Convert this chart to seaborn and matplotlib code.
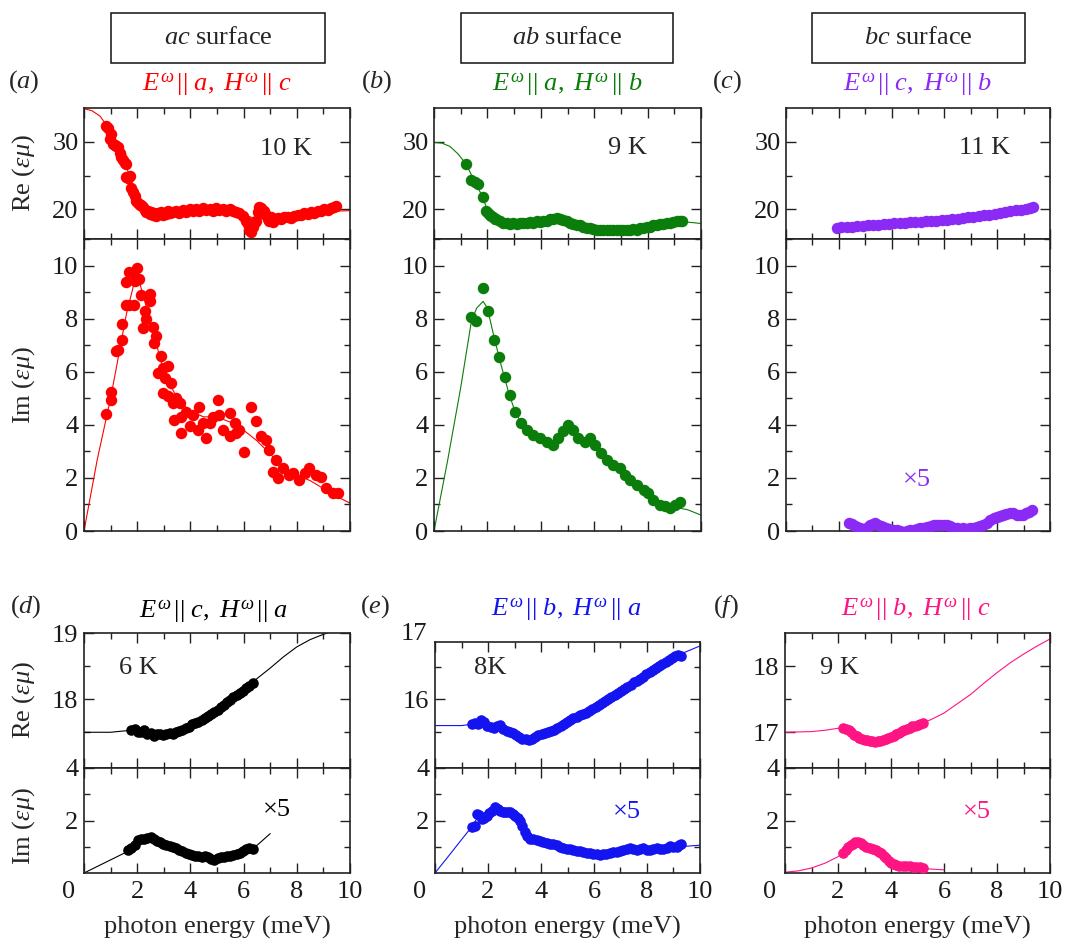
import matplotlib
matplotlib.use("Agg")
import matplotlib.pyplot as plt
from matplotlib.ticker import MultipleLocator, FixedLocator
from matplotlib.patches import Rectangle
import seaborn as sns

# ---------------------------------------------------------------- data
# photon energy (meV), value pairs; "fit" lists are the model curves
a_re_pts = [(0.84, 32.3), (0.90, 32.0), (0.96, 30.4), (1.03, 31.1), (1.09, 29.6), (1.15, 29.5),
            (1.22, 29.4), (1.28, 29.2), (1.34, 28.4), (1.40, 27.7), (1.46, 27.3), (1.53, 26.9),
            (1.59, 26.7), (1.59, 24.8), (1.65, 24.6), (1.72, 24.9), (1.78, 23.2), (1.84, 22.6),
            (1.90, 22.0), (1.96, 21.3), (2.03, 20.9), (2.09, 20.6), (2.15, 20.7), (2.22, 20.3),
            (2.28, 19.9), (2.34, 19.6), (2.40, 19.8), (2.47, 19.3), (2.53, 19.6), (2.59, 19.2),
            (2.65, 19.4), (2.72, 19.0), (2.78, 19.5), (2.84, 19.3), (2.90, 19.6), (2.97, 19.1),
            (3.03, 19.5), (3.09, 19.3), (3.15, 19.7), (3.22, 19.4), (3.34, 19.6), (3.47, 19.8),
            (3.59, 19.5), (3.72, 19.9), (3.84, 19.6), (3.97, 20.0), (4.09, 19.7), (4.22, 20.1),
            (4.34, 19.8), (4.47, 20.2), (4.59, 19.9), (4.72, 20.1), (4.84, 19.8), (4.97, 20.2),
            (5.09, 19.9), (5.22, 20.1), (5.34, 19.7), (5.47, 20.0), (5.59, 19.8), (5.72, 19.6),
            (5.84, 19.4), (5.97, 19.0), (6.09, 18.3), (6.16, 17.8), (6.22, 17.0), (6.28, 16.6),
            (6.34, 17.4), (6.41, 18.1), (6.47, 18.3), (6.53, 19.6), (6.59, 20.4), (6.66, 20.2),
            (6.72, 19.5), (6.78, 19.8), (6.84, 19.2), (6.91, 18.6), (6.97, 18.3), (7.03, 18.8),
            (7.09, 18.1), (7.16, 18.4), (7.28, 18.7), (7.41, 18.5), (7.53, 18.8), (7.66, 18.9),
            (7.78, 18.7), (7.91, 19.0), (8.03, 19.2), (8.16, 19.1), (8.28, 19.4), (8.41, 19.3),
            (8.53, 19.6), (8.66, 19.5), (8.78, 19.8), (8.91, 19.7), (9.03, 20.0), (9.16, 19.9),
            (9.28, 20.2), (9.41, 20.3), (9.47, 20.5)]
a_re_fit = [(0, 34.9), (0.3, 34.6), (0.6, 33.8), (0.9, 32.2), (1.2, 30.0), (1.5, 27.3), (1.8, 24.0),
            (2.1, 21.5), (2.4, 20.2), (2.7, 19.6), (3.0, 19.4), (4.0, 19.6), (5.0, 19.9), (5.8, 19.6),
            (6.3, 18.8), (6.8, 18.7), (7.5, 18.7), (8.5, 19.2), (9.3, 19.7), (10, 19.8)]
a_im_pts = [(0.81, 4.40), (1.03, 4.94), (1.03, 5.23), (1.21, 6.77), (1.28, 6.83), (1.43, 7.20),
            (1.43, 7.80), (1.59, 8.50), (1.71, 8.50), (1.88, 8.50), (1.59, 9.37), (1.69, 9.76),
            (1.84, 9.72), (2.00, 9.90), (1.90, 9.40), (2.05, 9.50), (2.22, 7.65), (2.28, 8.28),
            (2.15, 8.90), (2.47, 8.94), (2.47, 8.65), (2.34, 8.00), (2.59, 7.70), (2.72, 7.33),
            (2.65, 7.08), (2.90, 6.58), (2.78, 5.95), (2.97, 6.14), (3.15, 6.20), (3.03, 5.76),
            (3.28, 5.57), (2.97, 5.20), (3.15, 5.07), (3.47, 5.00), (3.60, 4.82), (3.34, 4.82),
            (3.40, 4.19), (3.65, 4.31), (3.65, 3.69), (3.84, 4.50), (3.97, 3.94), (4.09, 4.38),
            (4.34, 4.69), (4.28, 3.81), (4.47, 4.06), (4.59, 3.50), (4.72, 4.06), (4.84, 4.31),
            (5.03, 4.94), (5.09, 4.38), (5.22, 3.81), (5.47, 4.44), (5.47, 3.56), (5.66, 4.06),
            (5.84, 3.81), (5.72, 3.69), (6.03, 2.99), (6.28, 4.69), (6.47, 4.13), (6.66, 3.56),
            (6.85, 3.43), (6.97, 3.06), (7.22, 2.68), (7.10, 2.24), (7.28, 1.99), (7.47, 2.36),
            (7.72, 2.11), (7.85, 2.18), (8.10, 1.92), (8.29, 2.18), (8.47, 2.36), (8.72, 2.11),
            (8.91, 2.05), (9.10, 1.61), (9.35, 1.42), (9.54, 1.42)]
a_im_fit = [(0, 0.0), (0.5, 2.7), (1.0, 5.0), (1.3, 6.6), (1.6, 8.2), (1.9, 9.4), (2.05, 9.5),
            (2.3, 8.6), (2.6, 7.5), (3.0, 6.0), (3.5, 5.0), (4.0, 4.5), (4.5, 4.3), (5.0, 4.3),
            (5.5, 4.1), (6.0, 3.8), (6.5, 3.4), (7.0, 2.9), (7.5, 2.4), (8.0, 2.1), (8.5, 1.9),
            (9.0, 1.6), (9.5, 1.3), (10, 1.05)]

b_re_pts = [(1.21, 26.7), (1.40, 24.3), (1.52, 24.1), (1.65, 23.8), (1.84, 21.85), (1.96, 19.8),
            (2.03, 19.5), (2.09, 19.2), (2.15, 19.0), (2.22, 18.8), (2.28, 18.6), (2.34, 18.5),
            (2.47, 18.2), (2.59, 18.0), (2.72, 17.9), (2.84, 17.8), (2.97, 17.9), (3.09, 17.8),
            (3.22, 18.0), (3.34, 17.9), (3.47, 18.0), (3.59, 18.1), (3.72, 18.0), (3.84, 18.2),
            (3.97, 18.1), (4.09, 18.3), (4.22, 18.3), (4.34, 18.5), (4.47, 18.6), (4.59, 18.7),
            (4.72, 18.5), (4.84, 18.4), (4.97, 18.2), (5.09, 18.0), (5.22, 17.8), (5.34, 17.7),
            (5.47, 17.6), (5.59, 17.4), (5.72, 17.3), (5.84, 17.2), (5.97, 17.1), (6.09, 17.0),
            (6.22, 17.0), (6.34, 16.9), (6.47, 17.0), (6.59, 16.9), (6.72, 17.0), (6.84, 16.9),
            (6.97, 17.0), (7.09, 16.9), (7.22, 17.0), (7.34, 17.0), (7.47, 17.1), (7.59, 17.0),
            (7.72, 17.2), (7.84, 17.2), (7.97, 17.4), (8.09, 17.4), (8.22, 17.6), (8.34, 17.6),
            (8.47, 17.8), (8.59, 17.8), (8.72, 18.0), (8.84, 18.0), (8.97, 18.1), (9.09, 18.2),
            (9.22, 18.2), (9.30, 18.2)]
b_re_fit = [(0, 29.9), (0.3, 29.8), (0.6, 29.3), (0.9, 28.2), (1.2, 26.7), (1.5, 24.3), (1.8, 22.0),
            (2.0, 19.9), (2.2, 18.9), (2.5, 18.2), (3.0, 17.9), (4.0, 18.2), (4.6, 18.6), (5.0, 18.3),
            (5.5, 17.6), (6.0, 17.1), (7.0, 16.95), (8.0, 17.4), (9.0, 18.05), (9.5, 18.1), (10, 17.9)]
b_im_pts = [(1.40, 8.06), (1.59, 7.90), (1.84, 9.16), (2.03, 8.28), (2.25, 7.20), (2.44, 6.54),
            (2.65, 5.82), (2.84, 5.13), (3.03, 4.50), (3.25, 4.06), (3.47, 3.81), (3.72, 3.62),
            (3.97, 3.50), (4.22, 3.37), (4.44, 3.25), (4.66, 3.50), (4.84, 3.75), (5.03, 4.00),
            (5.22, 3.81), (5.41, 3.50), (5.66, 3.37), (5.84, 3.50), (6.03, 3.25), (6.25, 2.93),
            (6.47, 2.68), (6.72, 2.49), (6.97, 2.36), (7.16, 2.11), (7.35, 1.92), (7.60, 1.74),
            (7.85, 1.55), (8.03, 1.42), (8.22, 1.17), (8.47, 0.98), (8.66, 0.94), (8.85, 0.86),
            (9.04, 0.98), (9.22, 1.11)]
b_im_fit = [(0, 0.0), (0.5, 2.6), (1.0, 5.4), (1.4, 7.9), (1.6, 8.4), (1.84, 8.65), (2.0, 8.4),
            (2.25, 7.3), (2.5, 6.3), (2.8, 5.2), (3.0, 4.6), (3.3, 4.0), (3.7, 3.65), (4.2, 3.4),
            (4.5, 3.3), (4.8, 3.7), (5.0, 3.95), (5.3, 3.65), (5.7, 3.4), (6.0, 3.25), (6.4, 2.8),
            (7.0, 2.35), (7.5, 1.85), (8.0, 1.45), (8.5, 1.05), (9.0, 0.9), (9.5, 0.8), (10, 0.6)]

c_re_pts = [(1.93, 17.3), (2.10, 17.35), (2.30, 17.4), (2.50, 17.45), (2.70, 17.5), (2.90, 17.55),
            (3.10, 17.6), (3.30, 17.65), (3.50, 17.7), (3.70, 17.8), (3.90, 17.85), (4.10, 17.9),
            (4.30, 17.95), (4.50, 18.0), (4.70, 18.05), (4.90, 18.1), (5.10, 18.15), (5.30, 18.2),
            (5.50, 18.25), (5.70, 18.3), (5.90, 18.35), (6.10, 18.45), (6.30, 18.5), (6.50, 18.6),
            (6.70, 18.7), (6.90, 18.8), (7.10, 18.9), (7.30, 19.0), (7.50, 19.1), (7.70, 19.2),
            (7.90, 19.35), (8.10, 19.45), (8.30, 19.6), (8.50, 19.7), (8.70, 19.85), (8.90, 19.95),
            (9.10, 20.1), (9.25, 20.25), (9.37, 20.4)]
c_im_pts = [(2.37, 0.31), (2.50, 0.25), (2.60, 0.20), (2.69, 0.16), (2.80, 0.10), (2.90, 0.06),
            (3.00, 0.08), (3.10, 0.15), (3.20, 0.22), (3.30, 0.26), (3.38, 0.29), (3.50, 0.24),
            (3.60, 0.18), (3.69, 0.16), (3.80, 0.12), (3.90, 0.08), (4.07, 0.04), (4.20, 0.02),
            (4.30, 0.00), (4.45, -0.02), (4.60, 0.00), (4.70, 0.02), (4.83, 0.04), (4.95, 0.07),
            (5.08, 0.10), (5.20, 0.12), (5.35, 0.16), (5.50, 0.20), (5.60, 0.22), (5.71, 0.23),
            (5.85, 0.24), (5.97, 0.23), (6.09, 0.22), (6.20, 0.18), (6.35, 0.13), (6.47, 0.10),
            (6.60, 0.09), (6.72, 0.10), (6.85, 0.09), (6.97, 0.10), (7.10, 0.12), (7.22, 0.14),
            (7.35, 0.18), (7.48, 0.23), (7.60, 0.32), (7.73, 0.42), (7.86, 0.48), (8.00, 0.53),
            (8.10, 0.58), (8.23, 0.60), (8.35, 0.65), (8.48, 0.68), (8.61, 0.67), (8.74, 0.62),
            (8.87, 0.60), (8.99, 0.60), (9.10, 0.66), (9.20, 0.72), (9.31, 0.79)]

d_re_pts = [(1.78, 17.53), (1.90, 17.55), (2.02, 17.51), (2.14, 17.50), (2.26, 17.53), (2.38, 17.47),
            (2.50, 17.49), (2.62, 17.44), (2.74, 17.47), (2.86, 17.48), (2.98, 17.46), (3.10, 17.47),
            (3.22, 17.49), (3.34, 17.48), (3.46, 17.51), (3.58, 17.52), (3.70, 17.54), (3.82, 17.57),
            (3.94, 17.58), (4.06, 17.62), (4.18, 17.64), (4.30, 17.66), (4.42, 17.69), (4.54, 17.72),
            (4.66, 17.75), (4.78, 17.78), (4.90, 17.80), (5.02, 17.84), (5.14, 17.88), (5.26, 17.91),
            (5.38, 17.95), (5.50, 17.99), (5.62, 18.03), (5.74, 18.06), (5.86, 18.10), (5.98, 18.13),
            (6.10, 18.17), (6.22, 18.20), (6.34, 18.24)]
d_re_fit = [(0, 17.5), (1.0, 17.5), (1.5, 17.52), (1.84, 17.53), (2.4, 17.47), (3.0, 17.46),
            (3.5, 17.5), (4.0, 17.61), (4.5, 17.73), (5.0, 17.86), (5.5, 18.02), (6.0, 18.17),
            (6.5, 18.31), (7.0, 18.47), (7.5, 18.64), (8.0, 18.79), (8.5, 18.9), (9.0, 18.98),
            (9.3, 19.02)]
d_im_pts = [(1.66, 0.87), (1.78, 0.95), (1.90, 1.05), (2.02, 1.25), (2.14, 1.31), (2.26, 1.30),
            (2.38, 1.34), (2.50, 1.38), (2.62, 1.28), (2.74, 1.22), (2.86, 1.20), (2.98, 1.12),
            (3.10, 1.06), (3.22, 1.02), (3.34, 1.00), (3.46, 0.94), (3.58, 0.88), (3.70, 0.82),
            (3.82, 0.76), (3.94, 0.72), (4.06, 0.69), (4.18, 0.66), (4.30, 0.63), (4.42, 0.62),
            (4.54, 0.63), (4.66, 0.60), (4.78, 0.55), (4.90, 0.50), (5.02, 0.58), (5.14, 0.62),
            (5.26, 0.62), (5.38, 0.63), (5.50, 0.66), (5.62, 0.69), (5.74, 0.73), (5.86, 0.78),
            (5.98, 0.84), (6.10, 0.92), (6.22, 0.95), (6.34, 0.90)]
d_im_fit = [(0, 0.0), (0.5, 0.25), (1.0, 0.5), (1.5, 0.75), (1.8, 0.95), (2.1, 1.2), (2.4, 1.32),
            (2.7, 1.25), (3.0, 1.1), (3.5, 0.92), (4.0, 0.72), (4.5, 0.62), (5.0, 0.58), (5.5, 0.65),
            (6.0, 0.85), (6.5, 1.05), (7.0, 1.5)]

e_re_pts = [(1.38, 15.63), (1.50, 15.64), (1.62, 15.63), (1.74, 15.68), (1.86, 15.66), (1.98, 15.59),
            (2.10, 15.58), (2.22, 15.56), (2.34, 15.60), (2.46, 15.61), (2.58, 15.55), (2.70, 15.52),
            (2.82, 15.50), (2.94, 15.48), (3.06, 15.45), (3.18, 15.43), (3.30, 15.40), (3.42, 15.39),
            (3.54, 15.38), (3.66, 15.39), (3.78, 15.42), (3.90, 15.45), (4.02, 15.47), (4.14, 15.49),
            (4.26, 15.50), (4.38, 15.51), (4.50, 15.53), (4.62, 15.56), (4.74, 15.59), (4.86, 15.62),
            (4.98, 15.65), (5.10, 15.68), (5.22, 15.71), (5.34, 15.73), (5.46, 15.76), (5.58, 15.78),
            (5.70, 15.80), (5.82, 15.83), (5.94, 15.86), (6.06, 15.89), (6.18, 15.92), (6.30, 15.95),
            (6.42, 15.98), (6.54, 16.01), (6.66, 16.04), (6.78, 16.07), (6.90, 16.10), (7.02, 16.13),
            (7.14, 16.16), (7.26, 16.19), (7.38, 16.22), (7.50, 16.26), (7.62, 16.29), (7.74, 16.32),
            (7.86, 16.35), (7.98, 16.39), (8.10, 16.42), (8.22, 16.45), (8.34, 16.48), (8.46, 16.51),
            (8.58, 16.54), (8.70, 16.57), (8.82, 16.60), (8.94, 16.63), (9.06, 16.66), (9.18, 16.68),
            (9.30, 16.66)]
e_re_fit = [(0, 15.6), (1.0, 15.6), (1.4, 15.62), (1.8, 15.65), (2.2, 15.58), (2.6, 15.53),
            (3.0, 15.46), (3.4, 15.39), (3.6, 15.38), (4.0, 15.46), (4.5, 15.53), (5.0, 15.66),
            (6.0, 15.88), (7.0, 16.12), (8.0, 16.39), (9.0, 16.65), (10, 16.82)]
e_im_pts = [(1.38, 1.75), (1.50, 1.80), (1.57, 2.25), (1.66, 2.20), (1.76, 2.06), (1.86, 2.10),
            (1.95, 2.19), (2.05, 2.30), (2.14, 2.37), (2.26, 2.52), (2.36, 2.45), (2.45, 2.37),
            (2.55, 2.33), (2.64, 2.31), (2.74, 2.33), (2.83, 2.31), (2.93, 2.25), (3.02, 2.19),
            (3.12, 2.10), (3.21, 2.00), (3.30, 1.80), (3.40, 1.56), (3.49, 1.42), (3.58, 1.31),
            (3.71, 1.28), (3.84, 1.25), (3.96, 1.22), (4.09, 1.19), (4.22, 1.16), (4.34, 1.12),
            (4.47, 1.09), (4.59, 1.06), (4.72, 1.00), (4.84, 0.96), (4.97, 0.93), (5.09, 0.90),
            (5.22, 0.87), (5.35, 0.85), (5.47, 0.83), (5.60, 0.81), (5.72, 0.78), (5.85, 0.75),
            (5.97, 0.73), (6.10, 0.71), (6.22, 0.70), (6.35, 0.72), (6.47, 0.74), (6.60, 0.77),
            (6.72, 0.79), (6.86, 0.81), (6.98, 0.84), (7.11, 0.87), (7.24, 0.90), (7.36, 0.96),
            (7.49, 0.90), (7.61, 0.87), (7.74, 0.91), (7.86, 0.94), (7.99, 0.89), (8.11, 0.87),
            (8.24, 0.91), (8.36, 0.94), (8.49, 0.91), (8.62, 0.90), (8.74, 0.96), (8.87, 1.02),
            (8.99, 1.00), (9.12, 1.00), (9.22, 1.06), (9.30, 1.12)]
e_im_fit = [(0, 0.0), (0.5, 0.63), (1.0, 1.27), (1.38, 1.75), (1.6, 2.1), (1.9, 2.25), (2.2, 2.4),
            (2.6, 2.35), (3.0, 2.15), (3.3, 1.75), (3.6, 1.35), (4.0, 1.22), (5.0, 0.95), (6.0, 0.73),
            (7.0, 0.82), (8.0, 0.92), (9.0, 0.98), (10, 1.06)]

f_re_pts = [(2.20, 17.06), (2.30, 17.05), (2.40, 17.03), (2.50, 17.00), (2.60, 16.96), (2.70, 16.94),
            (2.80, 16.92), (2.90, 16.90), (3.00, 16.89), (3.10, 16.88), (3.20, 16.87), (3.30, 16.87),
            (3.40, 16.86), (3.50, 16.87), (3.60, 16.87), (3.70, 16.88), (3.80, 16.90), (3.90, 16.91),
            (4.00, 16.93), (4.10, 16.95), (4.20, 16.97), (4.30, 16.99), (4.40, 17.02), (4.50, 17.04),
            (4.60, 17.05), (4.70, 17.07), (4.80, 17.09), (4.90, 17.10), (5.00, 17.11), (5.10, 17.12),
            (5.21, 17.14)]
f_re_fit = [(0, 17.0), (1.0, 17.01), (1.5, 17.03), (2.0, 17.06), (2.2, 17.06), (2.6, 16.97),
            (3.0, 16.9), (3.5, 16.87), (4.0, 16.92), (4.5, 17.03), (5.0, 17.11), (5.5, 17.19),
            (6.0, 17.29), (6.5, 17.43), (7.0, 17.57), (7.5, 17.74), (8.0, 17.9), (8.5, 18.05),
            (9.0, 18.18), (9.5, 18.3), (10, 18.41)]
f_im_pts = [(2.20, 0.75), (2.30, 0.88), (2.38, 1.00), (2.48, 1.08), (2.57, 1.12), (2.66, 1.18),
            (2.76, 1.19), (2.86, 1.14), (2.95, 1.06), (3.07, 1.00), (3.20, 0.94), (3.32, 0.90),
            (3.45, 0.87), (3.55, 0.81), (3.64, 0.75), (3.73, 0.66), (3.83, 0.56), (3.92, 0.46),
            (4.01, 0.37), (4.10, 0.33), (4.20, 0.31), (4.32, 0.28), (4.45, 0.25), (4.57, 0.25),
            (4.70, 0.25), (4.83, 0.23), (4.96, 0.22), (5.08, 0.21), (5.21, 0.19)]
f_im_fit = [(0, 0.03), (0.5, 0.08), (1.0, 0.19), (1.5, 0.37), (2.0, 0.62), (2.4, 0.98), (2.7, 1.18),
            (3.0, 1.05), (3.4, 0.88), (3.8, 0.58), (4.2, 0.32), (4.6, 0.24), (5.0, 0.2), (5.5, 0.15),
            (6.0, 0.12)]

surfaces = ["ac", "ab", "bc"]
panel_tags = ["a", "b", "c", "d", "e", "f"]
configs = [("a", "c"), ("a", "b"), ("c", "b"), ("c", "a"), ("b", "a"), ("b", "c")]
temperatures = ["10 K", "9 K", "11 K", "6 K", "8K", "9 K"]

# ---------------------------------------------------------------- style
sns.set_style("ticks")
plt.rcParams.update({
    "font.family": ["Liberation Serif", "DejaVu Serif"],
    "mathtext.fontset": "custom",
    "mathtext.rm": "Liberation Serif",
    "mathtext.it": "Liberation Serif:italic",
    "mathtext.bf": "Liberation Serif:bold",
    "axes.linewidth": 1.2,
    "axes.edgecolor": "#222222",
    "xtick.color": "#222222",
    "ytick.color": "#222222",
    "xtick.labelcolor": "#1a1a1a",
    "ytick.labelcolor": "#1a1a1a",
})

FS = 19
colors = ["#ff0000", "#0a7d0a", "#8c2af5", "#000000", "#1414f0", "#ff1484"]

W, H = 1067, 942
fig = plt.figure(figsize=(W / 100, H / 100), dpi=100)


def frac(x, y):
    return x / W, 1 - y / H


def add_ax(l, t, r, b):
    return fig.add_axes([l / W, 1 - b / H, (r - l) / W, (b - t) / H])


def style(ax, xlabels):
    ax.set_xlim(0, 10)
    ax.xaxis.set_major_locator(MultipleLocator(2))
    ax.xaxis.set_minor_locator(MultipleLocator(1))
    ax.tick_params(which="both", direction="in", top=True, right=True,
                   labelsize=FS, width=1.0, pad=4)
    ax.tick_params(which="major", length=7)
    ax.tick_params(which="minor", length=4)
    ax.tick_params(axis="x", labelbottom=xlabels, pad=6)
    if xlabels:
        ax.set_xticks([0, 2, 4, 6, 8, 10])
        ax.set_xticklabels(["", "2", "4", "6", "8", "10"])
        ax.annotate("0", xy=(0, 0), xycoords="axes fraction", xytext=(-11, -6),
                    textcoords="offset points", ha="center", va="top", fontsize=FS,
                    color="#1a1a1a")


def draw(ax, pts, fit, color, s):
    if fit is not None:
        sns.lineplot(x=[p[0] for p in fit], y=[p[1] for p in fit], ax=ax, color=color,
                     linewidth=0.8, estimator=None, sort=False)
    sns.scatterplot(x=[p[0] for p in pts], y=[p[1] for p in pts], ax=ax, color=color,
                    s=s, linewidth=0, zorder=3)


# ---------------------------------------------------------------- top row
top_cols = [(84, 350), (434, 701), (786, 1050)]
top_re = [(a_re_pts, a_re_fit), (b_re_pts, b_re_fit), (c_re_pts, None)]
top_im = [(a_im_pts, a_im_fit), (b_im_pts, b_im_fit), (c_im_pts, None)]
for i, (l, r) in enumerate(top_cols):
    ax_re = add_ax(l, 108, r, 239)
    ax_im = add_ax(l, 239, r, 531)
    draw(ax_re, *top_re[i], colors[i], 68)
    draw(ax_im, *top_im[i], colors[i], 68)
    style(ax_re, False)
    style(ax_im, False)
    ax_re.set_ylim(15.6, 35)
    ax_re.yaxis.set_major_locator(FixedLocator([20, 30]))
    ax_re.yaxis.set_minor_locator(FixedLocator([25]))
    ax_im.set_ylim(0, 11)
    ax_im.yaxis.set_major_locator(MultipleLocator(2))
    ax_im.yaxis.set_minor_locator(MultipleLocator(1))
    ax_re.set_ylabel("")
    ax_im.set_ylabel("")

# ---------------------------------------------------------------- bottom row
bot_cols = [(84, 350, 633), (435, 700, 642), (785, 1050, 633)]
bot_re = [(d_re_pts, d_re_fit), (e_re_pts, e_re_fit), (f_re_pts, f_re_fit)]
bot_im = [(d_im_pts, d_im_fit), (e_im_pts, e_im_fit), (f_im_pts, f_im_fit)]
re_lims = [(16.96, 19.0), (14.95, 16.88), (16.46, 18.5)]
re_major = [[18, 19], [16], [17, 18]]
re_minor = [[17.5, 18.5], [15.5, 16.5], [17.5]]
for i, (l, r, t) in enumerate(bot_cols):
    ax_re = add_ax(l, t, r, 768)
    ax_im = add_ax(l, 768, r, 873)
    draw(ax_re, *bot_re[i], colors[3 + i], 58)
    draw(ax_im, *bot_im[i], colors[3 + i], 58)
    style(ax_re, False)
    style(ax_im, True)
    ax_re.set_ylim(*re_lims[i])
    ax_re.yaxis.set_major_locator(FixedLocator(re_major[i]))
    ax_re.yaxis.set_minor_locator(FixedLocator(re_minor[i]))
    ax_im.set_ylim(0, 4)
    ax_im.yaxis.set_major_locator(FixedLocator([2, 4]))
    ax_im.yaxis.set_minor_locator(FixedLocator([1, 3]))
    ax_re.set_ylabel("")
    ax_im.set_ylabel("")
    if i == 1:
        ax_re.text(-0.03, 17, "17", transform=ax_re.get_yaxis_transform(), ha="right",
                   va="center", fontsize=FS, color="#1a1a1a", clip_on=False)
    fig.text(*frac((l + r) / 2, 927), "photon energy (meV)", ha="center", va="center",
             fontsize=FS)

# ---------------------------------------------------------------- labels
ylab_kw = dict(rotation=90, ha="center", va="center", fontsize=FS)
fig.text(*frac(24, 173), r"Re ($\varepsilon\mu$)", **ylab_kw)
fig.text(*frac(24, 385), r"Im ($\varepsilon\mu$)", **ylab_kw)
fig.text(*frac(24, 700), r"Re ($\varepsilon\mu$)", **ylab_kw)
fig.text(*frac(24, 826), r"Im ($\varepsilon\mu$)", **ylab_kw)

boxes = [(111, 325), (461, 673), (812, 1025)]
for (bl, br), surf in zip(boxes, surfaces):
    fig.patches.append(Rectangle(frac(bl, 63), (br - bl) / W, 50 / H, transform=fig.transFigure,
                                 fill=False, edgecolor="#111111", linewidth=1.1))
    fig.text(*frac((bl + br) / 2, 38), rf"${surf}$ surface", ha="center", va="center",
             fontsize=FS)

tag_pos = [(24, 82), (377, 82), (727, 82), (26, 607), (375, 607), (726, 607)]
title_pos = [(217, 85), (567, 85), (918, 85), (213, 612), (566, 610), (916, 610)]
temp_pos = [(286, 149), (627, 148), (985, 148), (138, 668), (490, 668), (840, 668)]
for k in range(6):
    fig.text(*frac(*tag_pos[k]), rf"$({panel_tags[k]})$", ha="center", va="center",
             fontsize=FS)
    e_ax, h_ax = configs[k]
    fig.text(*frac(*title_pos[k]),
             rf"$E^{{\omega}}\,||\ {e_ax},\ H^{{\omega}}\,||\ {h_ax}$",
             ha="center", va="center", fontsize=FS, color=colors[k])
    fig.text(*frac(*temp_pos[k]), temperatures[k], ha="center", va="center", fontsize=FS)

scale_pos = {2: (917, 480), 3: (277, 810), 4: (627, 812), 5: (977, 812)}
for k, pos in scale_pos.items():
    fig.text(*frac(*pos), "×5", ha="center", va="center", fontsize=FS, color=colors[k])

fig.savefig("out.png", dpi=100)
